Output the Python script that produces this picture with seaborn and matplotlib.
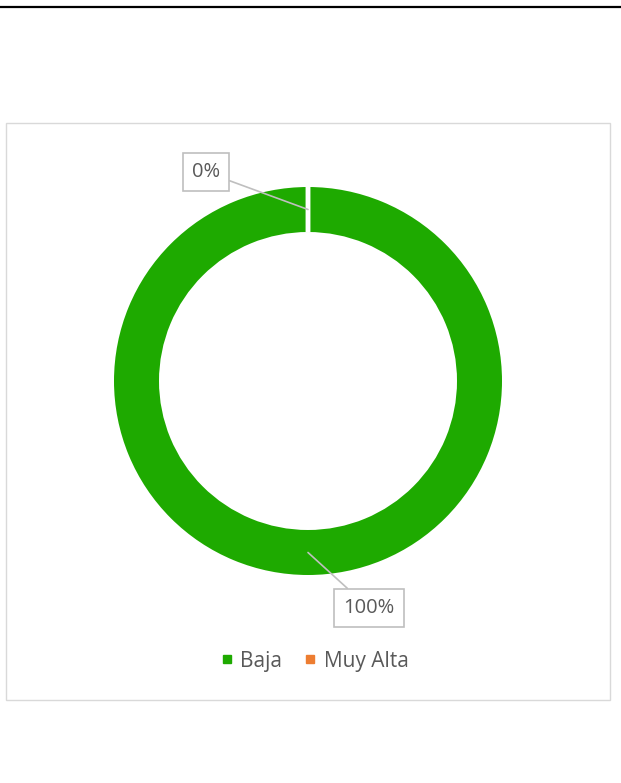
import matplotlib
matplotlib.use("Agg")
import matplotlib.pyplot as plt
import seaborn as sns
from matplotlib.patches import Rectangle
from matplotlib.lines import Line2D

sns.set_theme(style="white")
plt.rcParams['font.family'] = ['Open Sans', 'DejaVu Sans']

categories = ["Baja", "Muy Alta"]
values = [100, 0]
labels = ["100%", "0%"]
colors = ["#1eaa00", "#ed7d31"]

W, H = 621, 783
fig = plt.figure(figsize=(W / 100, H / 100), dpi=100)

# top rule
fig.add_artist(Line2D([0, 1], [1 - 7 / H, 1 - 7 / H], color="black", lw=1.6,
                      transform=fig.transFigure))
# chart frame
fig.add_artist(Rectangle((6 / W, 1 - 700 / H), 604 / W, 577 / H, fill=False,
                         ec="#d9d9d9", lw=1.0, transform=fig.transFigure))

cx, cy, half = 308, 381, 200
ax = fig.add_axes([(cx - half) / W, 1 - (cy + half) / H, 2 * half / W, 2 * half / H])

wedges, _ = ax.pie(values, colors=colors, startangle=90, counterclock=False,
                   radius=1.0, wedgeprops=dict(width=0.232, edgecolor="white", linewidth=3.5))
wedges[0].set_edgecolor("none")
wedges[1].set_zorder(5)
lim = half / 194
ax.set_xlim(-lim, lim)
ax.set_ylim(-lim, lim)
ax.set_aspect("equal")
ax.axis("off")

# data labels with callouts
ann = [
    (labels[0], (0.0, -0.884), (0.314, -1.170)),
    (labels[1], (0.0, 0.884), (-0.526, 1.077)),
]
for txt, xy, xyt in ann:
    ax.annotate(txt, xy=xy, xytext=xyt, ha="center", va="center",
                fontsize=14.5, color="#595959", annotation_clip=False, zorder=6,
                bbox=dict(boxstyle="square,pad=0.45", fc="white", ec="#bfbfbf", lw=1.2),
                arrowprops=dict(arrowstyle="-", color="#bfbfbf", lw=1.2,
                                shrinkA=0, shrinkB=0))

handles = [Line2D([0], [0], marker="s", ls="none", markersize=6,
                  markerfacecolor=c, markeredgecolor=c) for c in colors]
fig.legend(handles, categories, loc="center", bbox_to_anchor=(314 / W, 1 - 661 / H),
           ncol=2, frameon=False, fontsize=15, labelcolor="#595959",
           handletextpad=0.3, columnspacing=1.0, handlelength=0.7)

fig.savefig("out.png", dpi=100)
